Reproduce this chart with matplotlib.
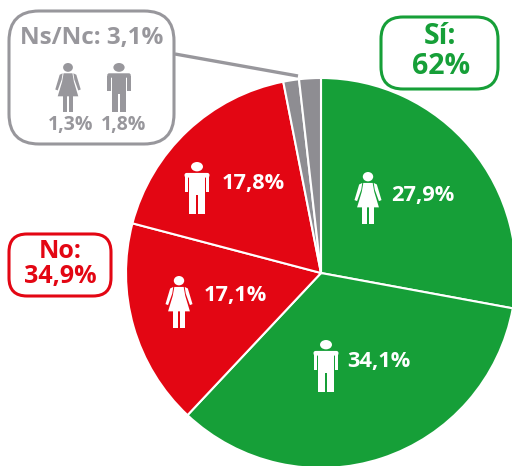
import matplotlib
matplotlib.use('Agg')
import matplotlib.pyplot as plt
from matplotlib.patches import FancyBboxPatch, Ellipse, Polygon, Rectangle

plt.rcParams['font.family'] = ['Open Sans', 'DejaVu Sans']

# datos
labels = ['Sí mujer', 'Sí hombre', 'No mujer', 'No hombre', 'Ns/Nc mujer', 'Ns/Nc hombre']
values = [27.9, 34.1, 17.1, 17.8, 1.3, 1.8]
colors = ['#169f38', '#169f38', '#e30613', '#e30613', '#8e8d92', '#8e8d92']
value_labels = ['27,9%', '34,1%', '17,1%', '17,8%', '1,3%', '1,8%']

GREEN = '#169f38'
RED = '#e30613'
GRAY = '#98979c'
H = 466


def py(y):
    # coordenadas de pixel con origen arriba
    return H - y


fig = plt.figure(figsize=(5.12, 4.66), dpi=100)
ax = fig.add_axes([0, 0, 1, 1])
ax.pie(values, colors=colors, startangle=90, counterclock=False,
       center=(321, py(273)), radius=195,
       wedgeprops={'edgecolor': 'white', 'linewidth': 1.5})
ax.set_xlim(0, 512)
ax.set_ylim(0, H)
ax.set_aspect('equal')
ax.axis('off')


def poly(cx, top, h, pts, color):
    ax.add_patch(Polygon([(cx + u * h, py(top + v * h)) for u, v in pts], color=color, lw=0, zorder=5))


def woman(cx, top, h, color):
    ax.add_patch(Ellipse((cx, py(top + 0.09 * h)), 0.2 * h, 0.18 * h, color=color, lw=0, zorder=5))
    # vestido
    poly(cx, top, h, [(-0.09, 0.21), (0.09, 0.21), (0.12, 0.38), (0.21, 0.68), (-0.21, 0.68), (-0.12, 0.38)], color)
    # brazos
    for s in (-1, 1):
        poly(cx, top, h, [(s * 0.11, 0.21), (s * 0.17, 0.24), (s * 0.26, 0.54), (s * 0.21, 0.56), (s * 0.13, 0.34)], color)
    for x0 in (-0.11, 0.015):
        ax.add_patch(Rectangle((cx + x0 * h, py(top + h)), 0.095 * h, 0.34 * h, color=color, lw=0, zorder=5))


def man(cx, top, h, color):
    ax.add_patch(Ellipse((cx, py(top + 0.09 * h)), 0.23 * h, 0.18 * h, color=color, lw=0, zorder=5))
    ax.add_patch(FancyBboxPatch((cx - 0.24 * h, py(top + 0.3 * h)), 0.48 * h, 0.09 * h,
                                boxstyle='round,pad=0,rounding_size=%f' % (0.04 * h),
                                color=color, lw=0, zorder=5))
    for x0 in (-0.24, 0.165):
        ax.add_patch(Rectangle((cx + x0 * h, py(top + 0.58 * h)), 0.075 * h, 0.32 * h, color=color, lw=0, zorder=5))
    ax.add_patch(Rectangle((cx - 0.145 * h, py(top + 0.64 * h)), 0.29 * h, 0.42 * h, color=color, lw=0, zorder=5))
    for x0 in (-0.145, 0.012):
        ax.add_patch(Rectangle((cx + x0 * h, py(top + h)), 0.133 * h, 0.38 * h, color=color, lw=0, zorder=5))


def box(x0, y0, x1, y1, r, color):
    ax.add_patch(FancyBboxPatch((x0, py(y1)), x1 - x0, y1 - y0,
                                boxstyle='round,pad=0,rounding_size=%f' % r,
                                fc='white', ec=color, lw=2.2, zorder=3))


def txt(x, y, s, color, size, ha='center'):
    ax.text(x, py(y), s, color=color, fontsize=size, fontweight='bold',
            ha=ha, va='center', zorder=6)


# cajas
box(9, 11, 174, 144, 30, GRAY)
box(381, 17, 498, 89, 22, GREEN)
box(9, 234, 111, 296, 18, RED)
ax.plot([175, 298], [py(54), py(76)], color=GRAY, lw=2.4, zorder=2, solid_capstyle='butt')

txt(92, 38, 'Ns/Nc: 3,1%', GRAY, 17.5)
txt(70.5, 125, value_labels[4], GRAY, 14)
txt(124, 125, value_labels[5], GRAY, 14)
woman(68, 63, 49, GRAY)
man(119, 63, 49, GRAY)

txt(440, 37, 'Sí:', GREEN, 20.5)
txt(441, 66, '62%', GREEN, 20.5)
txt(60, 251, 'No:', RED, 18)
txt(60, 277, '34,9%', RED, 18)

# iconos y etiquetas dentro de la tarta
woman(368, 172, 52, 'white')
txt(391, 196, value_labels[0], 'white', 15.7, ha='left')
man(326, 340, 52, 'white')
txt(347, 361, value_labels[1], 'white', 15.7, ha='left')
woman(179, 276, 52, 'white')
txt(204, 296, value_labels[2], 'white', 15.7, ha='left')
man(197, 162, 52, 'white')
txt(222, 183, value_labels[3], 'white', 15.7, ha='left')

fig.savefig('out.png', dpi=100)
